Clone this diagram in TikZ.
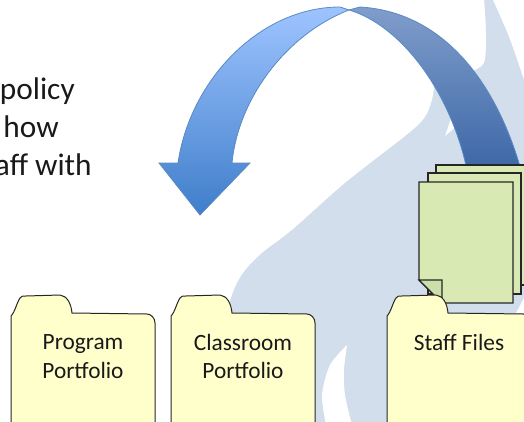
\documentclass[tikz,border=0pt]{standalone}
\usepackage{fontspec}
\setmainfont{Carlito}

\definecolor{flameblue}{HTML}{D2DEEC}
\definecolor{folderfill}{HTML}{FFFFCB}
\definecolor{paperfill}{HTML}{D9E9B3}
\definecolor{foldfill}{HTML}{CBE0A8}
\definecolor{arrowline}{HTML}{5A8AC6}
\definecolor{arrowtop}{HTML}{9EC4FF}
\definecolor{arrowbot}{HTML}{3F7ECA}
\definecolor{backtop}{HTML}{809DCB}
\definecolor{backbot}{HTML}{3C67A6}

\tikzset{
  folderbox/.style={draw=black!85, line width=0.75pt, fill=folderfill},
  paperbox/.style={draw=black!85, line width=0.9pt, fill=paperfill},
  foldertext/.style={font=\fontsize{17.5}{21.7}\selectfont, align=center, text=black!90},
  introtext/.style={font=\fontsize{23.5}{27}\selectfont, anchor=base east, inner sep=0pt, text=black!90},
  arrowfront/.style={draw=arrowline, line width=0.6pt, top color=arrowtop, bottom color=arrowbot},
  arrowback/.style={draw=arrowline, line width=0.6pt, top color=backtop, bottom color=backbot},
}

\begin{document}
\begin{tikzpicture}[x=0.75pt, y=-0.75pt]

  \useasboundingbox (0,0) rectangle (524,421);
  \clip (0,0) rectangle (524,421);

  % flame in the background
  \fill[flameblue] plot[smooth] coordinates {(484,-2) (486,33) (484,63) (470,72)}
    -- plot[smooth] coordinates {(435,80) (432,100) (425,117) (409,133) (345,183) (292,230) (262,253) (243,273) (232,295) (226,325) (225,425)}
    -- (528,425) -- (528,88)
    -- plot[smooth] coordinates {(524,80) (509,37) (492,-2)} -- cycle;
  \fill[white] (445,136) -- (453,113) -- (468,115) -- (458,125) -- cycle;
  \fill[white] plot[smooth] coordinates {(347,345) (330,365) (322,395) (326,425)}
    -- plot[smooth] coordinates {(352,425) (345,395) (344,370) (347,345)} -- cycle;
  \fill[white] (524,298) -- (516,313) -- (524,313) -- cycle;

  % big curved arrow, back part first
  \draw[arrowback] (349,10) .. controls (400,25) and (450,90) .. (467,170)
    -- (521,170) .. controls (497,85) and (445,12) .. (360,7) -- cycle;
  \draw[arrowfront] (200,215) -- (250,163) -- (232,163)
    .. controls (238,100) and (285,35) .. (349,10)
    -- (340,7) .. controls (260,7) and (190,80) .. (178,163)
    -- (159,163) -- cycle;

  % stack of sheets
  \draw[paperbox] (436,165) rectangle (530,285);
  \draw[paperbox] (428,173) rectangle (521,294);
  \draw[paperbox] (419,182) -- (513,182) -- (513,303) -- (442,303) -- (419,280) -- cycle;
  \draw[paperbox, fill=foldfill] (419,280) -- (442,280) -- (442,303) -- cycle;

  % folders
  \foreach \fx in {0,160,376} {
    \draw[folderbox, shift={(\fx,0)}] (11,425) -- (11,316) .. controls (15,312) and (17,302) .. (20,298)
      .. controls (21,296) and (23,296) .. (26,296) -- (60,295)
      .. controls (67,296) and (71,303) .. (72,313) -- (147,314)
      .. controls (151,314) and (155,318) .. (155,323) -- (155,425);
  }
  \node[foldertext] (program) at (83,356.5) {Program\\Portfolio};
  \node[foldertext] (classroom) at (243,356.5) {Classroom\\Portfolio};
  \node[foldertext] (staff) at (459,342.5) {Staff Files};

  % clipped text on the left
  \node[introtext] (line1) at (75,99) {policy};
  \node[introtext] (line2) at (59,137) {how};
  \node[introtext] (line3) at (92,175) {aff with};

\end{tikzpicture}
\end{document}
